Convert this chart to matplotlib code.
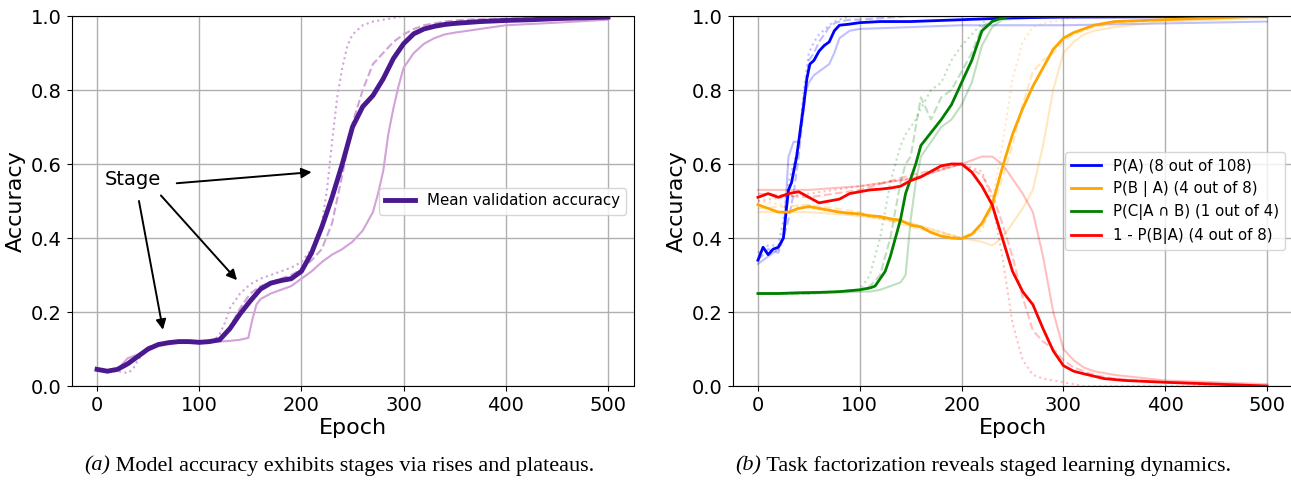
import matplotlib
matplotlib.use("Agg")
import matplotlib.pyplot as plt

# ---------------- Data: panel (a) ----------------
ep_mean = [0,10,20,30,40,50,60,70,80,90,100,110,120,130,140,150,160,170,180,190,200,
           210,220,230,240,250,260,270,280,290,300,310,320,330,340,350,375,400,425,450,475,500]
acc_mean = [.045,.04,.045,.06,.08,.10,.112,.117,.12,.12,.118,.12,.125,.155,.195,.23,.262,.278,.285,.29,.31,
            .36,.43,.51,.60,.70,.755,.785,.83,.885,.925,.952,.965,.972,.977,.98,.985,.988,.99,.993,.995,.997]

ep_run_solid = [0,10,20,30,35,40,50,60,70,80,90,100,110,120,130,140,148,152,156,160,170,180,190,200,
                210,220,230,240,250,260,270,275,280,285,290,295,300,310,320,330,340,350,375,400,450,500]
acc_run_solid = [.045,.04,.045,.075,.08,.085,.10,.11,.115,.12,.118,.117,.12,.12,.122,.125,.13,.18,.22,.235,.25,.26,.27,.29,
                 .31,.335,.355,.37,.39,.42,.47,.52,.58,.68,.75,.81,.86,.90,.925,.94,.95,.955,.965,.975,.982,.99]

ep_run_dashed = [0,10,20,30,40,50,60,70,80,90,100,110,120,130,140,150,160,170,180,190,200,
                 210,220,230,240,250,260,270,280,290,300,310,320,340,360,400,450,500]
acc_run_dashed = [.045,.04,.045,.055,.08,.105,.115,.12,.12,.12,.118,.12,.125,.16,.21,.25,.27,.28,.29,.30,.315,
                  .34,.37,.44,.57,.71,.80,.87,.90,.93,.95,.965,.975,.985,.99,.993,.997,1.0]

ep_run_dotted = [0,10,20,30,35,40,50,60,70,80,90,100,110,115,120,125,130,140,150,160,170,180,190,200,
                 210,215,220,225,230,235,240,245,250,260,270,280,290,300,350,400,500]
acc_run_dotted = [.045,.04,.04,.035,.045,.07,.10,.11,.117,.12,.12,.12,.12,.125,.14,.17,.21,.25,.275,.29,.30,.31,.32,.335,
                  .37,.40,.44,.53,.66,.78,.86,.92,.95,.975,.985,.99,.995,1.0,1.0,1.0,1.0]

# ---------------- Data: panel (b) ----------------
ep_pa = [0,5,10,15,20,25,28,30,33,38,42,45,48,51,55,60,65,70,75,80,90,100,120,150,200,250,300,400,500]
pa_mean = [.34,.375,.355,.37,.375,.40,.48,.53,.55,.62,.70,.76,.83,.87,.88,.905,.92,.93,.96,.975,.978,.982,.985,.985,.99,.995,.997,.998,1.0]
ep_pa_runs = [0,10,20,25,30,35,40,45,50,55,60,70,75,80,90,100,150,200,300,400,500]
pa_run_solid = [.33,.35,.37,.40,.62,.66,.66,.78,.82,.84,.85,.87,.90,.94,.96,.965,.97,.975,.975,.98,.985]
pa_run_dashed = [.34,.37,.36,.40,.45,.52,.62,.75,.88,.90,.93,.97,.98,.985,.99,.99,1.0,1.0,1.0,1.0,1.0]
pa_run_dotted = [.36,.38,.38,.45,.55,.60,.65,.80,.90,.93,.95,.975,.985,.99,1.0,1.0,1.0,1.0,1.0,1.0,1.0]

ep_pb = [0,10,20,30,40,50,60,70,80,90,100,110,120,130,140,150,160,170,180,190,200,210,220,230,240,
         250,260,270,280,290,300,310,320,330,350,400,450,500]
pb_mean = [.49,.48,.47,.47,.48,.485,.48,.475,.47,.467,.465,.46,.458,.452,.448,.435,.43,.415,.405,.40,.398,.41,.44,.49,.59,
           .68,.75,.81,.86,.91,.94,.955,.965,.975,.985,.99,.995,1.0]
ep_pb_runs = [0,50,100,150,200,220,230,240,250,260,270,280,290,300,310,320,330,350,400,500]
pb_run_solid = [.47,.47,.46,.44,.40,.39,.38,.40,.44,.48,.53,.65,.80,.90,.93,.95,.96,.97,.985,.995]
pb_run_dashed = [.48,.49,.47,.43,.40,.43,.48,.56,.65,.76,.85,.88,.90,.93,.95,.96,.97,.98,.99,1.0]
pb_run_dotted = [.50,.48,.46,.44,.40,.42,.50,.65,.83,.93,.97,.98,.985,.99,.995,1.0,1.0,1.0,1.0,1.0]

ep_pc = [0,20,40,60,80,100,110,115,120,125,130,135,140,145,150,155,160,170,180,190,200,210,215,220,230,240,250,300,400,500]
pc_mean = [.25,.25,.252,.253,.255,.26,.265,.27,.29,.31,.35,.40,.45,.52,.56,.60,.65,.685,.72,.76,.82,.88,.92,.96,.985,.995,1.0,1.0,1.0,1.0]
ep_pc_runs = [0,50,100,110,120,130,140,145,150,155,160,170,180,190,200,210,220,230,240,300,500]
pc_run_solid = [.25,.25,.255,.255,.26,.27,.28,.30,.45,.55,.62,.66,.70,.72,.76,.82,.92,.97,.99,1.0,1.0]
pc_run_dashed = [.25,.25,.26,.27,.30,.40,.55,.60,.62,.70,.78,.72,.78,.80,.85,.90,.97,.99,1.0,1.0,1.0]
pc_run_dotted = [.25,.25,.26,.30,.40,.55,.65,.68,.70,.72,.75,.80,.82,.88,.92,.95,.98,1.0,1.0,1.0,1.0]

ep_pr = [0,10,20,30,40,50,60,70,80,90,100,110,120,130,140,150,160,170,180,190,200,210,220,230,240,250,
         260,270,280,290,300,310,320,340,360,400,450,500]
pr_mean = [.51,.52,.51,.52,.525,.51,.495,.50,.505,.52,.525,.53,.532,.535,.54,.555,.565,.58,.595,.60,.60,.578,.54,.49,.40,.31,
           .255,.22,.155,.095,.055,.04,.033,.02,.015,.01,.005,.0]
ep_pr_runs = [0,50,100,150,200,220,230,240,250,260,270,280,290,300,310,320,330,350,400,500]
pr_run_solid = [.53,.53,.54,.56,.60,.62,.62,.60,.56,.52,.47,.35,.20,.10,.07,.05,.04,.03,.015,.005]
pr_run_dashed = [.52,.51,.53,.57,.60,.57,.52,.44,.35,.24,.15,.12,.10,.07,.05,.04,.03,.02,.01,.0]
pr_run_dotted = [.50,.52,.54,.56,.60,.58,.50,.35,.17,.07,.03,.02,.015,.01,.005,.0,.0,.0,.0,.0]

legend_b = ["P(A) (8 out of 108)", "P(B | A) (4 out of 8)", "P(C|A \u2229 B) (1 out of 4)", "1 - P(B|A) (4 out of 8)"]

# ---------------- Figure ----------------
W, H = 1291, 480
fig = plt.figure(figsize=(W/100, H/100), dpi=100)
ax1 = fig.add_axes([71.5/W, 94/H, 562/W, 370/H])
ax2 = fig.add_axes([732.5/W, 94/H, 560/W, 370/H])

mean_c = '#4a1990'
light_c = '#d2a2d8'
ax1.plot(ep_run_solid, acc_run_solid, color=light_c, lw=1.5, ls='-')
ax1.plot(ep_run_dashed, acc_run_dashed, color=light_c, lw=1.5, ls='--')
ax1.plot(ep_run_dotted, acc_run_dotted, color=light_c, lw=1.5, ls=':')
ax1.plot(ep_mean, acc_mean, color=mean_c, lw=3.5, label='Mean validation accuracy')

stage_xy = (35, 0.557)
heads = [(64.5, 0.152), (137, 0.286), (210, 0.578)]
tails = [(41, 0.50), (62.5, 0.515), (78, 0.548)]
ax1.text(*stage_xy, 'Stage', fontsize=14, ha='center', va='center')
for h, t in zip(heads, tails):
    ax1.annotate('', xy=h, xytext=t,
                 arrowprops=dict(arrowstyle='-|>', color='black', lw=1.4, mutation_scale=15, shrinkA=0, shrinkB=0))

ax1.legend(loc='center right', fontsize=10.8)

colors = ['blue', 'orange', 'green', 'red']
groups = [
    (ep_pa, pa_mean, ep_pa_runs, [pa_run_solid, pa_run_dashed, pa_run_dotted]),
    (ep_pb, pb_mean, ep_pb_runs, [pb_run_solid, pb_run_dashed, pb_run_dotted]),
    (ep_pc, pc_mean, ep_pc_runs, [pc_run_solid, pc_run_dashed, pc_run_dotted]),
    (ep_pr, pr_mean, ep_pr_runs, [pr_run_solid, pr_run_dashed, pr_run_dotted]),
]
for c, (ep, m, epr, runs) in zip(colors, groups):
    for r, ls in zip(runs, ['-', '--', ':']):
        ax2.plot(epr, r, color=c, lw=1.5, ls=ls, alpha=0.25)
for c, lab, (ep, m, epr, runs) in zip(colors, legend_b, groups):
    ax2.plot(ep, m, color=c, lw=2, label=lab)
ax2.legend(loc='center right', fontsize=10.8)

for ax in (ax1, ax2):
    ax.set_ylim(0, 1.0)
    ax.set_xlim(-25, 525)
    ax.set_xticks([0, 100, 200, 300, 400, 500])
    ax.set_yticks([0, 0.2, 0.4, 0.6, 0.8, 1.0])
    ax.grid(True, color='#b0b0b0', lw=1)
    ax.set_axisbelow(True)
    ax.tick_params(labelsize=14)
    ax.set_xlabel('Epoch', fontsize=16, labelpad=2)
    ax.set_ylabel('Accuracy', fontsize=16, labelpad=4)

renderer = fig.canvas.get_renderer()


def caption(xc_px, yc_px, italic_part, rest):
    y = 1 - yc_px / H
    t1 = fig.text(0, y, italic_part, family='Liberation Serif', style='italic',
                  fontsize=16, va='center', ha='left')
    t2 = fig.text(0, y, rest, family='Liberation Serif', fontsize=16, va='center', ha='left')
    w1 = t1.get_window_extent(renderer).width
    w2 = t2.get_window_extent(renderer).width
    x0 = xc_px - (w1 + w2) / 2
    t1.set_x(x0 / W)
    t2.set_x((x0 + w1) / W)


caption(339, 466, '(a)', ' Model accuracy exhibits stages via rises and plateaus.')
caption(983, 466, '(b)', ' Task factorization reveals staged learning dynamics.')

fig.savefig('out.png', dpi=100)
